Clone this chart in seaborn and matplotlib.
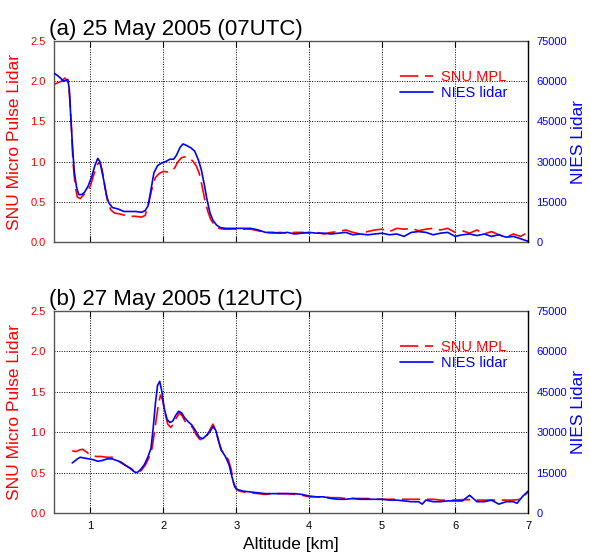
import matplotlib
matplotlib.use("Agg")
import matplotlib.pyplot as plt
import seaborn as sns
from matplotlib.lines import Line2D

sns.set_style("ticks")
plt.rcParams['font.family'] = ['Liberation Sans', 'DejaVu Sans']
plt.rcParams['text.color'] = 'black'
plt.rcParams['axes.labelcolor'] = 'black'
plt.rcParams['xtick.color'] = 'black'
plt.rcParams['ytick.color'] = 'black'

# ---------------- Panel (a): 25 May 2005 (07UTC) ----------------
a_mpl_x = [0.50, 0.55, 0.60, 0.65, 0.68, 0.70, 0.72, 0.74, 0.76, 0.79, 0.82, 0.86, 0.90, 0.95,
           1.00, 1.05, 1.10, 1.13, 1.16, 1.20, 1.24, 1.28, 1.33, 1.40, 1.48, 1.55, 1.62, 1.70,
           1.75, 1.79, 1.84, 1.89, 1.94, 2.00, 2.06, 2.12, 2.16, 2.20, 2.25, 2.30, 2.35, 2.40,
           2.45, 2.49, 2.53, 2.57, 2.61, 2.65, 2.70, 2.76, 2.83, 2.92,
           3.0, 3.1, 3.2, 3.3, 3.4, 3.5, 3.6, 3.7, 3.8, 3.9, 4.0, 4.1, 4.2, 4.3, 4.4, 4.5, 4.6,
           4.7, 4.8, 4.9, 5.0, 5.1, 5.2, 5.3, 5.4, 5.5, 5.6, 5.7, 5.8, 5.9, 6.0, 6.1, 6.2, 6.3,
           6.4, 6.5, 6.6, 6.7, 6.8, 6.9, 7.0]
a_mpl_y = [1.96, 1.98, 2.00, 2.04, 2.01, 1.95, 1.75, 1.40, 1.00, 0.70, 0.56, 0.54, 0.58, 0.62,
           0.70, 0.85, 0.97, 0.99, 0.90, 0.68, 0.48, 0.40, 0.36, 0.35, 0.33, 0.32, 0.32, 0.31,
           0.33, 0.45, 0.65, 0.80, 0.85, 0.88, 0.87, 0.88, 0.93, 1.00, 1.05, 1.06, 1.05, 1.01,
           0.95, 0.86, 0.70, 0.52, 0.38, 0.28, 0.21, 0.17, 0.16, 0.16,
           0.16, 0.16, 0.16, 0.14, 0.12, 0.11, 0.12, 0.11, 0.12, 0.12, 0.11, 0.12, 0.10, 0.12,
           0.13, 0.15, 0.12, 0.10, 0.13, 0.15, 0.16, 0.13, 0.17, 0.16, 0.17, 0.14, 0.16, 0.17,
           0.15, 0.17, 0.12, 0.14, 0.11, 0.15, 0.10, 0.13, 0.09, 0.06, 0.10, 0.07, 0.12]

a_nies_x = [0.50, 0.55, 0.60, 0.63, 0.66, 0.69, 0.71, 0.73, 0.76, 0.78, 0.81, 0.84, 0.88, 0.92,
            0.97, 1.02, 1.06, 1.10, 1.13, 1.18, 1.22, 1.25, 1.30, 1.38, 1.46, 1.55, 1.62, 1.70,
            1.75, 1.79, 1.83, 1.87, 1.92, 1.97, 2.03, 2.09, 2.14, 2.18, 2.23, 2.27, 2.32, 2.38,
            2.43, 2.48, 2.52, 2.56, 2.60, 2.64, 2.68, 2.73, 2.78, 2.85, 2.92,
            3.0, 3.1, 3.2, 3.3, 3.4, 3.5, 3.6, 3.7, 3.8, 3.9, 4.0, 4.1, 4.2, 4.3, 4.4, 4.5, 4.6,
            4.7, 4.8, 4.9, 5.0, 5.1, 5.2, 5.3, 5.4, 5.5, 5.6, 5.7, 5.8, 5.9, 6.0, 6.1, 6.2, 6.3,
            6.4, 6.5, 6.6, 6.7, 6.8, 6.9, 7.0]
a_nies_y = [63000, 62100, 60900, 60000, 60300, 60600, 57000, 46800, 33000, 25800, 20400, 17700,
            17700, 18600, 21000, 24600, 28500, 31200, 30000, 23400, 17400, 14700, 12900, 12300,
            11400, 11400, 11400, 11100, 11700, 13500, 19500, 25800, 28500, 29400, 30000, 30900,
            30900, 32400, 35400, 36600, 36000, 35100, 33900, 30600, 27000, 21600, 15600, 10800,
            8100, 6300, 5400, 5100, 5100,
            5100, 5100, 5100, 4500, 3600, 3600, 3300, 3600, 3000, 3300, 3600, 3300, 3300, 3000,
            3300, 3600, 2700, 3000, 2700, 3000, 3300, 2700, 3000, 2100, 3600, 3900, 3600, 2700,
            3300, 3600, 2100, 2700, 3000, 2400, 3000, 2100, 2700, 1800, 2100, 1200, 300]

# ---------------- Panel (b): 27 May 2005 (12UTC) ----------------
b_mpl_x = [0.75, 0.80, 0.85, 0.89, 0.94, 0.98, 1.03, 1.08, 1.15, 1.22, 1.30, 1.36, 1.42, 1.50,
           1.56, 1.61, 1.65, 1.70, 1.75, 1.80, 1.84, 1.87, 1.90, 1.93, 1.96, 1.99, 2.02, 2.06,
           2.10, 2.14, 2.18, 2.22, 2.26, 2.30, 2.35, 2.40, 2.45, 2.50, 2.55, 2.60, 2.65, 2.68,
           2.71, 2.75, 2.79, 2.84, 2.89, 2.93, 2.96, 3.00, 3.05, 3.10,
           3.2, 3.3, 3.4, 3.5, 3.6, 3.7, 3.8, 3.9, 4.0, 4.1, 4.2, 4.3, 4.4, 4.5, 4.6, 4.7, 4.8,
           4.9, 5.0, 5.1, 5.2, 5.3, 5.4, 5.5, 5.6, 5.7, 5.8, 5.9, 6.0, 6.1, 6.2, 6.3, 6.4, 6.5,
           6.6, 6.7, 6.8, 6.9, 7.0]
b_mpl_y = [0.77, 0.76, 0.78, 0.79, 0.76, 0.73, 0.71, 0.70, 0.70, 0.69, 0.69, 0.66, 0.62, 0.58,
           0.55, 0.51, 0.50, 0.53, 0.59, 0.68, 0.78, 0.95, 1.15, 1.33, 1.46, 1.40, 1.25, 1.10,
           1.06, 1.10, 1.18, 1.24, 1.20, 1.13, 1.10, 1.06, 0.97, 0.91, 0.91, 0.96, 1.05, 1.10,
           1.04, 0.92, 0.78, 0.73, 0.66, 0.54, 0.38, 0.29, 0.27, 0.26,
           0.25, 0.24, 0.23, 0.24, 0.24, 0.24, 0.23, 0.22, 0.20, 0.20, 0.20, 0.19, 0.19, 0.18,
           0.18, 0.18, 0.18, 0.17, 0.17, 0.17, 0.17, 0.17, 0.17, 0.17, 0.17, 0.17, 0.16, 0.16,
           0.16, 0.165, 0.165, 0.16, 0.16, 0.16, 0.16, 0.16, 0.16, 0.17, 0.26]

b_nies_x = [0.75, 0.78, 0.82, 0.86, 0.92, 0.98, 1.04, 1.10, 1.16, 1.23, 1.30, 1.36, 1.42, 1.48,
            1.55, 1.60, 1.64, 1.69, 1.74, 1.79, 1.83, 1.86, 1.89, 1.92, 1.95, 1.98, 2.01, 2.05,
            2.09, 2.13, 2.17, 2.21, 2.25, 2.29, 2.34, 2.39, 2.44, 2.49, 2.54, 2.59, 2.64, 2.68,
            2.72, 2.76, 2.80, 2.85, 2.90, 2.94, 2.98, 3.02, 3.10,
            3.2, 3.3, 3.4, 3.5, 3.6, 3.7, 3.8, 3.9, 4.0, 4.1, 4.2, 4.3, 4.4, 4.5, 4.6, 4.7, 4.8,
            4.9, 5.0, 5.1, 5.2, 5.3, 5.4, 5.5, 5.55, 5.6, 5.7, 5.8, 5.9, 6.0, 6.1, 6.2, 6.3, 6.4,
            6.5, 6.6, 6.7, 6.8, 6.85, 6.92, 7.0]
b_nies_y = [18600, 19200, 20100, 20700, 20400, 20100, 19800, 19200, 19500, 20100, 20100, 19500,
            18900, 17700, 16500, 15300, 15000, 16200, 18000, 21000, 24000, 31500, 40500, 47400,
            48900, 45000, 39000, 34800, 33600, 34200, 36300, 37800, 37200, 35400, 33900, 32700,
            30600, 28200, 27600, 28800, 30300, 32100, 30600, 26400, 23100, 21000, 18000, 13500,
            9600, 8700, 8100,
            7800, 7500, 7200, 7200, 7200, 7200, 7200, 6900, 6300, 6000, 6000, 5400, 5100, 5100,
            5400, 5100, 5100, 5100, 5100, 4800, 4800, 4500, 4200, 4200, 3300, 4800, 4200, 4200,
            4500, 4500, 4500, 6600, 4200, 4200, 4800, 3300, 4200, 4200, 3600, 6000, 8100]

titles = ["(a) 25 May 2005 (07UTC)", "(b) 27 May 2005 (12UTC)"]
x_ticks = [1, 2, 3, 4, 5, 6, 7]
left_ticks = [0.0, 0.5, 1.0, 1.5, 2.0, 2.5]
right_ticks = [0, 15000, 30000, 45000, 60000, 75000]

panels = [(a_mpl_x, a_mpl_y, a_nies_x, a_nies_y), (b_mpl_x, b_mpl_y, b_nies_x, b_nies_y)]

fig = plt.figure(figsize=(5.9, 5.56), dpi=100)
axes_pos = [[0.0915, 0.5647, 0.8034, 0.3615], [0.0915, 0.0773, 0.8034, 0.3633]]

RED = "#ff0000"
BLUE = "#0000ff"
DASH = (11, 4)

for i, (mx, my, nx, ny) in enumerate(panels):
    ax = fig.add_axes(axes_pos[i])
    ax2 = ax.twinx()
    sns.lineplot(x=mx, y=my, ax=ax, color=RED, lw=1.2, estimator=None, sort=False)
    ax.lines[-1].set_dashes(DASH)
    sns.lineplot(x=nx, y=ny, ax=ax2, color=BLUE, lw=1.2, estimator=None, sort=False)

    ax.set_xlim(0.5, 7.0)
    ax.set_ylim(0, 2.5)
    ax2.set_ylim(0, 75000)
    ax.set_xticks(x_ticks)
    ax.set_yticks(left_ticks)
    ax2.set_yticks(right_ticks)
    ax.set_yticklabels([f"{v:.1f}" for v in left_ticks])
    ax2.set_yticklabels([str(v) for v in right_ticks])
    ax.grid(True, color="black", linestyle=(0, (1, 1.5)), linewidth=0.7)
    ax2.grid(False)
    ax.tick_params(axis="x", direction="in", top=True, bottom=True, length=4,
                   labelsize=8, colors="black", pad=6)
    ax.tick_params(axis="y", direction="in", length=0, labelsize=8, labelcolor=RED, pad=6)
    ax2.tick_params(axis="y", direction="in", length=0, labelsize=8, labelcolor=BLUE, pad=6)
    if i == 0:
        ax.tick_params(axis="x", labelbottom=False)
        ax.set_xlabel("")
    else:
        ax.set_xlabel("Altitude [km]", fontsize=12.5, color="black", labelpad=4)
    ax.set_ylabel("SNU Micro Pulse Lidar", fontsize=12.5, color=RED, labelpad=6)
    ax2.set_ylabel("NIES Lidar", fontsize=12.5, color=BLUE, labelpad=3)
    for s in ["top", "bottom", "left"]:
        ax.spines[s].set_color("#555555")
        ax2.spines[s].set_visible(False)
    ax2.spines["right"].set_color("black")
    ax.spines["right"].set_visible(False)
    for sp in ax.spines.values():
        sp.set_linewidth(1.0)
    ax2.spines["right"].set_linewidth(1.0)
    ax.set_title(titles[i], loc="left", fontsize=16, x=-0.01, pad=4, color="black")

    handles = [Line2D([], [], color=RED, lw=1.2, dashes=DASH),
               Line2D([], [], color=BLUE, lw=1.2)]
    ax2.legend(handles, ["SNU MPL", "NIES lidar"], loc="upper right",
               bbox_to_anchor=(0.985, 0.92), frameon=False, fontsize=10.5,
               handlelength=2.3, handletextpad=0.55, labelspacing=0.15,
               labelcolor=[RED, BLUE])

fig.savefig("out.png", dpi=100)
